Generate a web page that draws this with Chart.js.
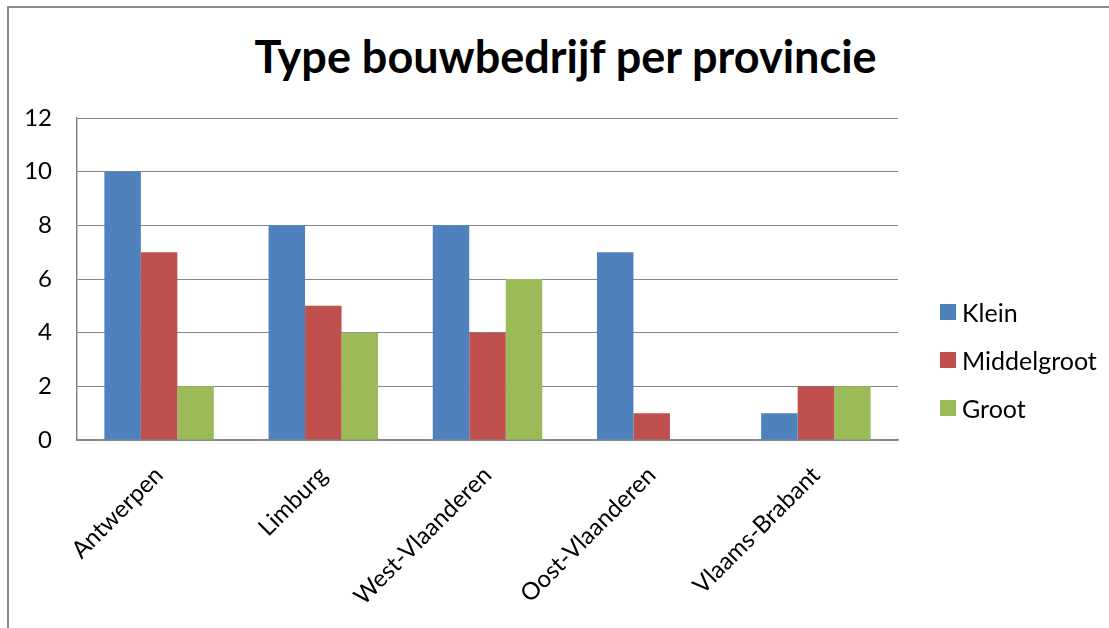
<!DOCTYPE html>
<html>
<head>
<meta charset="utf-8">
<script src="https://cdn.jsdelivr.net/npm/chart.js@4.4.1/dist/chart.umd.min.js"></script>
<style>
  html, body { margin: 0; padding: 0; background: #fff; overflow: hidden; }
  .wrap { position: relative; width: 1109px; height: 628px; font-family: Lato, 'Open Sans', sans-serif; }
  .frame { position: absolute; left: 7px; top: 6px; width: 1200px; height: 700px;
           border-left: 2px solid #8a8a8a; border-top: 2px solid #8a8a8a; }
  .title { position: absolute; left: 22px; right: 0; top: 29px; text-align: center;
           font-size: 45px; font-weight: 700; color: #000; line-height: 1.2; }
  canvas { position: absolute; left: 0; top: 0; }
  .legend { position: absolute; left: 940px; top: 288px; }
  .legend .li { height: 48px; display: flex; align-items: center; font-size: 25px; color: #000; }
  .legend .sq { width: 16px; height: 16px; margin-right: 6px; flex: none; }
</style>
</head>
<body>
<div class="wrap">
  <div class="frame"></div>
  <div class="title">Type bouwbedrijf per provincie</div>
  <canvas id="c" width="1109" height="628"></canvas>
  <div class="legend" id="legend"></div>
</div>
<script>
  var provinces = ['Antwerpen', 'Limburg', 'West-Vlaanderen', 'Oost-Vlaanderen', 'Vlaams-Brabant'];
  var klein = [10, 8, 8, 7, 1];
  var middelgroot = [7, 5, 4, 1, 2];
  var groot = [2, 4, 6, 0, 2];
  var yTicks = [0, 2, 4, 6, 8, 10, 12];

  var seriesNames = ['Klein', 'Middelgroot', 'Groot'];
  var seriesColors = ['#4F81BD', '#C0504D', '#9BBB59'];
  var GRID = '#868686';
  var FONT = 'Lato, "Open Sans", sans-serif';

  Chart.defaults.font.family = FONT;
  Chart.defaults.color = '#000';

  var series = [klein, middelgroot, groot];
  var datasets = series.map(function (d, i) {
    return {
      label: seriesNames[i], data: d,
      backgroundColor: seriesColors[i], borderWidth: 0,
      barPercentage: 1, categoryPercentage: 3 / 4.5   // gap width 150%
    };
  });

  new Chart(document.getElementById('c'), {
    type: 'bar',
    data: { labels: provinces, datasets: datasets },
    options: {
      responsive: false, animation: false,
      layout: { padding: { top: 118, right: 211, bottom: 0, left: 0 } },
      plugins: { legend: { display: false }, title: { display: false }, tooltip: { enabled: false } },
      scales: {
        x: {
          grid: { display: false },
          border: { color: GRID, width: 1.5 },
          ticks: { font: { size: 24 }, minRotation: 45, maxRotation: 45, padding: 13, autoSkip: false },
          afterFit: function (s) { s.height = 188; }
        },
        y: {
          min: yTicks[0], max: yTicks[yTicks.length - 1],
          grid: { color: GRID, lineWidth: 1, drawTicks: false },
          border: { color: GRID, width: 1.5 },
          ticks: { font: { size: 24 }, padding: 25 },
          afterBuildTicks: function (s) { s.ticks = yTicks.map(function (v) { return { value: v }; }); },
          afterFit: function (s) { s.width = 77; }
        }
      }
    }
  });

  // legend as html, same colours as the datasets
  document.getElementById('legend').innerHTML = seriesNames.map(function (n, i) {
    return '<div class="li"><span class="sq" style="background:' + seriesColors[i] + '"></span>' + n + '</div>';
  }).join('');
</script>
</body>
</html>
